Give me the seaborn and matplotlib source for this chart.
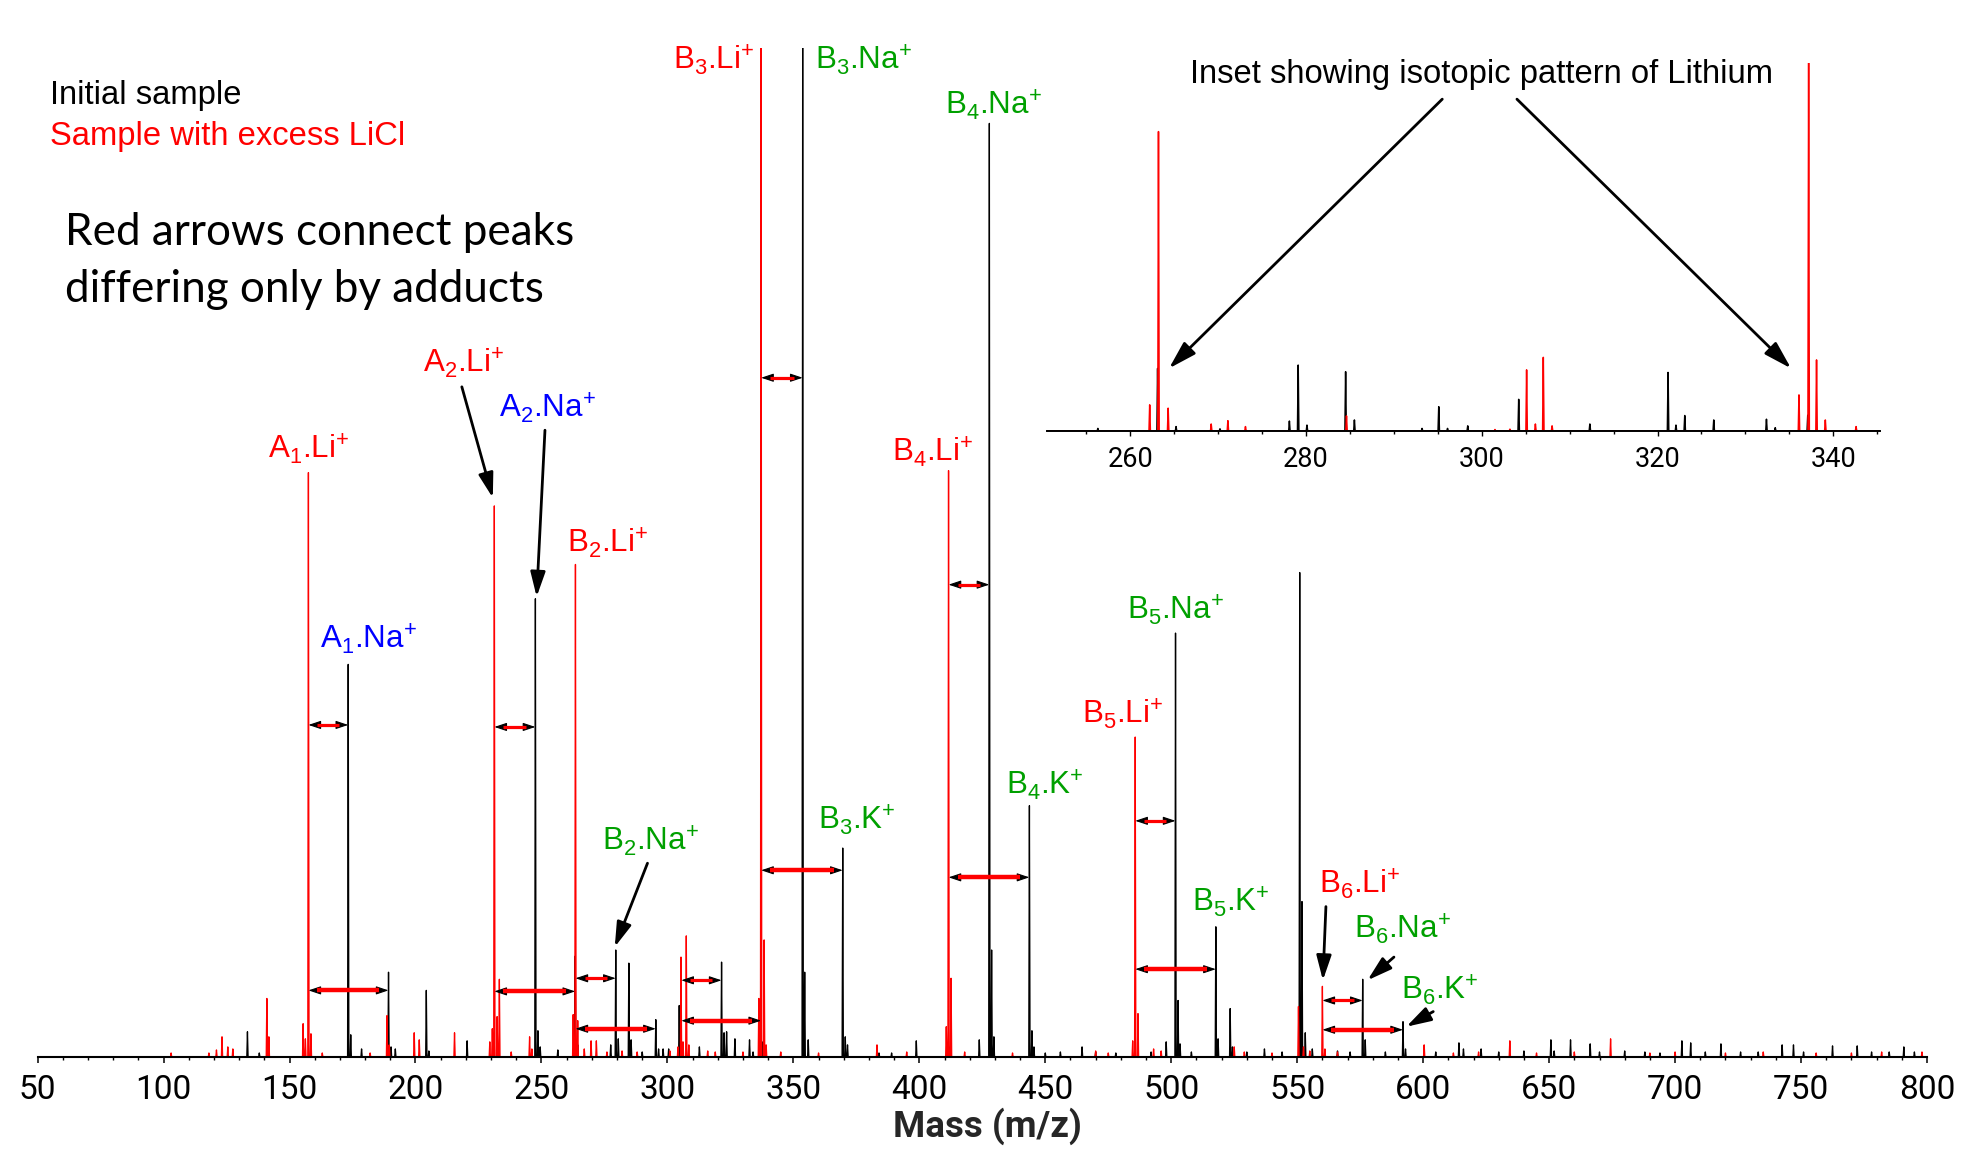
import numpy as np
import pandas as pd
import matplotlib
matplotlib.use("Agg")
import matplotlib.pyplot as plt
import seaborn as sns
from matplotlib.ticker import MultipleLocator, FixedLocator

# ---------------- data (m/z, relative intensity %) ----------------
black_mz = [133.3, 138.0, 173.3, 174.3, 178.6, 189.3, 190.3, 192.0, 204.3, 205.3, 220.5,
            247.6, 248.6, 249.5, 256.5, 263.4, 264.4, 277.5, 279.5, 280.5, 284.7, 285.6,
            290.0, 295.4, 296.5, 298.3, 300.5, 304.7, 305.6, 312.7, 321.5, 322.5, 323.5,
            326.8, 332.6, 334.0, 337.6, 353.7, 354.5, 355.9, 369.6, 370.6, 371.5, 384.0,
            389.0, 398.8, 412.2, 423.8, 427.8, 428.7, 429.6, 443.7, 444.7, 445.5, 450.0,
            456.0, 464.6, 470.0, 478.0, 492.0, 498.0, 501.7, 502.7, 503.5, 508.0, 517.7,
            518.6, 523.4, 524.3, 530.0, 537.0, 544.0, 551.0, 551.9, 553.2, 556.0, 566.0,
            571.0, 576.0, 577.0, 585.0, 592.0, 593.0, 605.0, 614.2, 616.0, 623.0, 630.0,
            640.0, 650.7, 652.0, 658.5, 666.3, 670.0, 680.0, 688.0, 694.0, 702.7, 706.2,
            712.0, 718.2, 726.0, 733.0, 742.5, 747.0, 751.0, 762.5, 772.3, 778.0, 785.0,
            790.8, 795.0]
black_int = [2.5, 0.4, 38.9, 2.2, 0.8, 8.4, 1.0, 0.8, 6.6, 0.6, 1.6,
             45.4, 2.6, 1.0, 0.7, 10.0, 1.2, 1.2, 10.6, 1.8, 9.3, 1.7,
             0.5, 3.7, 0.8, 0.8, 0.8, 5.1, 1.2, 1.0, 9.4, 2.4, 2.5,
             1.8, 1.7, 0.5, 1.5, 100.0, 8.4, 1.7, 20.7, 2.0, 1.2, 0.4,
             0.4, 1.6, 1.0, 1.7, 92.5, 10.6, 2.0, 24.9, 2.6, 1.0, 0.4,
             0.5, 1.0, 0.5, 0.4, 0.5, 1.5, 42.0, 5.6, 1.3, 0.5, 12.9,
             1.8, 4.8, 1.0, 0.5, 0.8, 0.5, 48.0, 15.4, 2.4, 0.8, 0.6,
             0.5, 7.7, 1.7, 0.5, 3.5, 0.8, 0.5, 1.4, 0.8, 0.8, 0.5,
             0.6, 1.7, 0.6, 1.7, 1.3, 0.5, 0.6, 0.5, 0.4, 1.6, 1.4,
             0.5, 1.3, 0.5, 0.5, 1.2, 1.2, 0.5, 1.1, 1.1, 0.5, 0.5,
             1.0, 0.5]

red_mz = [103.0, 118.0, 121.0, 123.2, 125.5, 127.5, 141.0, 141.8, 155.4, 156.3, 157.5,
          158.5, 163.0, 182.0, 188.7, 189.6, 199.5, 201.5, 215.5, 229.5, 230.5, 231.3,
          232.4, 233.3, 238.0, 245.3, 246.2, 262.6, 263.5, 264.4, 267.0, 269.7, 271.8,
          276.0, 282.0, 288.0, 301.0, 304.2, 305.4, 306.2, 307.5, 308.5, 316.0, 319.0,
          330.0, 336.3, 337.2, 338.4, 339.2, 345.0, 360.0, 383.2, 395.0, 410.7, 411.6,
          412.6, 418.0, 437.0, 470.0, 475.0, 484.7, 485.7, 486.8, 493.0, 496.0, 525.0,
          529.0, 540.0, 550.5, 552.5, 555.0, 560.0, 561.0, 566.0, 600.4, 612.0, 622.0,
          634.4, 645.0, 660.0, 674.4, 690.0, 700.0, 720.0, 735.0, 756.0, 770.0, 782.0,
          798.0]
red_int = [0.4, 0.4, 0.7, 2.0, 1.0, 0.8, 5.8, 2.0, 3.3, 1.8, 57.9,
           2.3, 0.4, 0.4, 4.1, 1.2, 2.4, 1.7, 2.4, 1.5, 2.8, 54.6,
           4.0, 7.7, 0.5, 2.0, 0.8, 4.2, 48.8, 3.6, 0.8, 1.6, 1.6,
           0.5, 0.6, 0.5, 0.6, 1.0, 9.9, 1.5, 12.0, 1.2, 0.6, 0.5,
           0.5, 5.8, 100.0, 11.6, 1.2, 0.5, 0.4, 1.2, 0.5, 3.0, 58.1,
           7.8, 0.5, 0.4, 0.6, 0.4, 1.6, 31.7, 4.3, 0.8, 0.6, 1.0,
           0.5, 0.4, 5.0, 1.0, 0.6, 7.0, 0.8, 0.5, 1.2, 0.4, 0.5,
           1.6, 0.4, 0.5, 1.8, 0.4, 0.5, 0.4, 0.5, 0.4, 0.4, 0.5,
           0.5]

inset_black_mz = [256.3, 263.1, 265.2, 270.2, 278.1, 279.1, 280.1, 284.5, 285.5, 293.2,
                  295.1, 296.1, 298.4, 304.2, 312.3, 321.2, 322.1, 323.1, 326.4, 332.4,
                  333.4, 337.1]
inset_black_int = [0.7, 17.0, 1.2, 0.6, 2.7, 17.9, 1.6, 16.1, 3.0, 0.7,
                   6.6, 0.7, 1.4, 8.6, 1.9, 15.9, 1.6, 4.2, 3.0, 3.2,
                   0.9, 4.3]
inset_red_mz = [262.2, 263.2, 264.3, 269.2, 271.1, 273.1, 284.6, 301.5, 303.2, 305.1,
                306.1, 307.0, 308.0, 336.1, 337.2, 338.1, 339.1, 342.6]
inset_red_int = [7.1, 81.3, 6.2, 1.9, 2.8, 1.2, 4.1, 0.4, 0.5, 16.6,
                 1.9, 20.0, 1.4, 9.8, 100.0, 19.3, 3.0, 1.2]

x_ticks = [50, 100, 150, 200, 250, 300, 350, 400, 450, 500, 550, 600, 650, 700, 750, 800]
inset_ticks = [260, 280, 300, 320, 340]

# peak labels: (text, colour key)
peak_labels = [r"A$_\mathregular{1}$.Li$^\mathregular{+}$", r"A$_\mathregular{1}$.Na$^\mathregular{+}$",
               r"A$_\mathregular{2}$.Li$^\mathregular{+}$", r"A$_\mathregular{2}$.Na$^\mathregular{+}$",
               r"B$_\mathregular{2}$.Li$^\mathregular{+}$", r"B$_\mathregular{2}$.Na$^\mathregular{+}$",
               r"B$_\mathregular{3}$.Li$^\mathregular{+}$", r"B$_\mathregular{3}$.Na$^\mathregular{+}$",
               r"B$_\mathregular{3}$.K$^\mathregular{+}$", r"B$_\mathregular{4}$.Li$^\mathregular{+}$",
               r"B$_\mathregular{4}$.Na$^\mathregular{+}$", r"B$_\mathregular{4}$.K$^\mathregular{+}$",
               r"B$_\mathregular{5}$.Li$^\mathregular{+}$", r"B$_\mathregular{5}$.Na$^\mathregular{+}$",
               r"B$_\mathregular{5}$.K$^\mathregular{+}$", r"B$_\mathregular{6}$.Li$^\mathregular{+}$",
               r"B$_\mathregular{6}$.Na$^\mathregular{+}$", r"B$_\mathregular{6}$.K$^\mathregular{+}$"]
label_kind = ["li", "naA", "li", "naA", "li", "na", "li", "na", "na", "li",
              "na", "na", "li", "na", "na", "li", "na", "na"]

# adduct pairs connected by red arrows (m/z from, m/z to)
pair_mz = [(157.5, 173.3), (157.5, 189.3), (231.3, 247.6), (231.3, 263.4),
           (263.5, 279.5), (263.5, 295.4), (305.5, 321.5), (305.5, 337.2),
           (337.2, 353.7), (337.2, 369.6), (411.6, 427.8), (411.6, 443.7),
           (485.7, 501.7), (485.7, 517.7), (560.0, 576.0), (560.0, 592.0)]

# ---------------- style ----------------
sns.set_theme(style="ticks")
plt.rcParams["font.family"] = ["DejaVu Sans"]
plt.rcParams["mathtext.fontset"] = "custom"
plt.rcParams["mathtext.rm"] = "Liberation Sans"
plt.rcParams["mathtext.it"] = "Liberation Sans:italic"
plt.rcParams["mathtext.bf"] = "Liberation Sans:bold"

NARROW = ["Liberation Sans Narrow", "Roboto", "DejaVu Sans"]
COL = {"li": "#ff0000", "naA": "#0000ff", "na": "#00a000"}
W, H = 1966, 1150


def profile(mz, inten, lo, hi, w):
    xs, ys = [lo], [0.0]
    for m, h in sorted(zip(mz, inten)):
        xs += [m - w, m, m + w]
        ys += [0.0, h, 0.0]
    xs.append(hi)
    ys.append(0.0)
    return pd.DataFrame({"mz": xs, "intensity": ys})


fig = plt.figure(figsize=(W / 100, H / 100), dpi=100)
ax = fig.add_axes([37.6 / W, (H - 1057) / H, (1927 - 37.6) / W, (1057 - 47.7) / H])

sns.lineplot(data=profile(black_mz, black_int, 50, 800, 0.25), x="mz", y="intensity",
             sort=False, estimator=None, color="black", linewidth=0.95, ax=ax)
sns.lineplot(data=profile(red_mz, red_int, 50, 800, 0.25), x="mz", y="intensity",
             sort=False, estimator=None, color="#ff0000", linewidth=0.95, ax=ax)

ax.set_xlim(50, 800)
ax.set_ylim(0, 100)
sns.despine(ax=ax, left=True)
ax.set_yticks([])
ax.set_ylabel("")
ax.spines["bottom"].set_linewidth(1.5)
ax.spines["bottom"].set_color("black")
ax.xaxis.set_major_locator(FixedLocator(x_ticks))
ax.xaxis.set_minor_locator(MultipleLocator(10))
ax.tick_params(axis="x", which="major", direction="out", length=4, width=1.1,
               pad=8.0, labelsize=24, colors="black")
ax.tick_params(axis="x", which="minor", direction="out", length=2.2, width=1.0, colors="black")
for t in ax.get_xticklabels():
    t.set_family(NARROW)
ax.set_xlabel("Mass (m/z)", fontsize=26.5, fontweight="bold", family=NARROW)
ax.xaxis.set_label_coords(0.5025, -(1137 - 1057) / (1057 - 47.7))
ax.xaxis.label.set_verticalalignment("baseline")

# peak labels positioned in data space
label_pos = [(141.5, 59.3), (162.1, 40.5), (203.0, 67.8), (233.2, 63.4), (260.2, 50.0),
             (273.9, 20.5), (302.2, 97.8), (358.6, 97.8), (359.6, 22.5), (389.1, 59.0),
             (410.2, 93.4), (434.3, 26.0), (464.5, 33.0), (482.4, 43.3), (508.2, 14.4),
             (558.7, 16.2), (572.4, 11.7), (591.2, 5.7)]
for txt, kind, (px, py) in zip(peak_labels, label_kind, label_pos):
    ax.text(px, py, txt, color=COL[kind], fontsize=22.5, family="Liberation Sans",
            ha="left", va="baseline", clip_on=False)

# black pointer arrows for crowded labels
pointer = dict(arrowstyle="-|>,head_length=1.5,head_width=0.45", mutation_scale=10,
               color="black", lw=2.0, shrinkA=0, shrinkB=0)
for (x0, y0, x1, y1) in [(218.4, 66.4, 230.7, 55.4), (251.4, 62.1, 248.1, 45.6),
                         (292.1, 19.2, 279.1, 10.9), (561.4, 14.9, 560.2, 7.6),
                         (588.4, 9.9, 577.9, 7.6), (604.0, 4.5, 593.3, 3.0)]:
    ax.annotate("", xy=(x1, y1), xytext=(x0, y0), arrowprops=pointer, annotation_clip=False)

# red double arrows connecting adducts
pair_y = [32.9, 6.6, 32.7, 6.5, 7.8, 2.8, 7.6, 3.6, 67.3, 18.5, 46.8, 17.8, 23.4, 8.7, 5.6, 2.7]
head = 3.6
for (m1, m2), yy in zip(pair_mz, pair_y):
    ax.annotate("", xy=(m2, yy), xytext=(m1, yy),
                arrowprops=dict(arrowstyle="<|-|>,head_length=0.75,head_width=0.25",
                                mutation_scale=10, color="black", lw=0.8,
                                shrinkA=0, shrinkB=0), zorder=5)
    big = (m2 - m1) > 24
    ax.plot([m1 + head, m2 - head], [yy, yy], color="#ff0000",
            lw=3.2 if big else 2.3, solid_capstyle="butt", zorder=6)

# legend-like texts
fig.text(50 / W, 1 - 104 / H, "Initial sample", color="black", fontsize=23.6,
         family="Liberation Sans", va="baseline", ha="left")
fig.text(50 / W, 1 - 145 / H, "Sample with excess LiCl", color="#ff0000", fontsize=23.6,
         family="Liberation Sans", va="baseline", ha="left")
fig.text(65 / W, 1 - 245 / H, "Red arrows connect peaks", color="black", fontsize=31.7,
         family="Lato", va="baseline", ha="left")
fig.text(65 / W, 1 - 302 / H, "differing only by adducts", color="black", fontsize=31.7,
         family="Lato", va="baseline", ha="left")

# ---------------- inset ----------------
axi = fig.add_axes([1046.9 / W, (H - 431) / H, 832.9 / W, 368.3 / H])
axi.patch.set_alpha(0)
sns.lineplot(data=profile(inset_black_mz, inset_black_int, 250.5, 345.3, 0.08), x="mz",
             y="intensity", sort=False, estimator=None, color="black", linewidth=1.1, ax=axi)
sns.lineplot(data=profile(inset_red_mz, inset_red_int, 250.5, 345.3, 0.08), x="mz",
             y="intensity", sort=False, estimator=None, color="#ff0000", linewidth=1.1, ax=axi)
axi.set_xlim(250.5, 345.3)
axi.set_ylim(0, 100)
sns.despine(ax=axi, left=True)
axi.set_yticks([])
axi.set_ylabel("")
axi.set_xlabel("")
axi.spines["bottom"].set_linewidth(1.4)
axi.spines["bottom"].set_color("black")
axi.xaxis.set_major_locator(FixedLocator(inset_ticks))
axi.xaxis.set_minor_locator(MultipleLocator(5))
axi.tick_params(axis="x", which="major", direction="out", length=3.6, width=1.0,
                pad=7.0, labelsize=19.5, colors="black")
axi.tick_params(axis="x", which="minor", direction="out", length=2.2, width=1.0, colors="black")
for t in axi.get_xticklabels():
    t.set_family(NARROW)

fig.text(1190.4 / W, 1 - 83.3 / H, "Inset showing isotopic pattern of Lithium", color="black",
         fontsize=23.6, family="Liberation Sans", va="baseline", ha="left")
pointer2 = dict(arrowstyle="-|>,head_length=1.7,head_width=0.5", mutation_scale=10,
                color="black", lw=2.0, shrinkA=0, shrinkB=0)
axi.annotate("", xy=(264.4, 17.0), xytext=(295.5, 90.1), arrowprops=pointer2,
             annotation_clip=False)
axi.annotate("", xy=(335.2, 17.0), xytext=(304.0, 90.1), arrowprops=pointer2,
             annotation_clip=False)

fig.savefig("out.png", dpi=100, facecolor="white")
